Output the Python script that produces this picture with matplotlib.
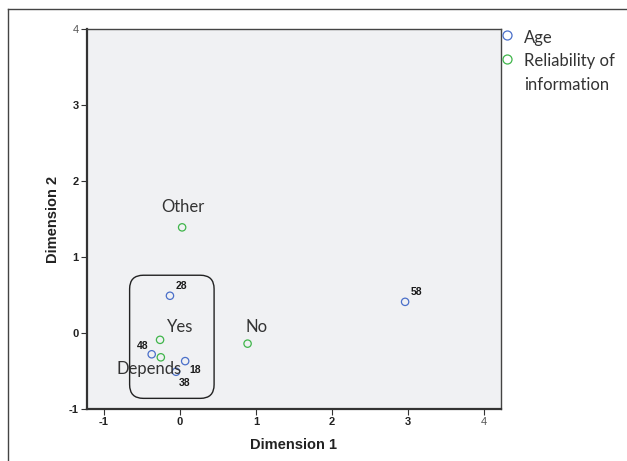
import matplotlib.pyplot as plt
from matplotlib.patches import FancyBboxPatch
from matplotlib.lines import Line2D

# category points (Dimension 1, Dimension 2)
age_labels = ['28', '58', '48', '18', '38']
age_x = [-0.13, 2.96, -0.37, 0.07, -0.05]
age_y = [0.49, 0.41, -0.28, -0.37, -0.51]

rel_labels = ['Other', 'No', 'Yes', 'Depends']
rel_x = [0.03, 0.89, -0.26, -0.25]
rel_y = [1.39, -0.14, -0.09, -0.32]

ticks = [-1, 0, 1, 2, 3, 4]

W, H = 627, 461
fig = plt.figure(figsize=(W / 100, H / 100), dpi=100)
ax = fig.add_axes([87 / W, 1 - 409 / H, (501 - 87) / W, (409 - 29) / H])
ax.set_facecolor('#f0f1f3')

blue = '#4a6fc9'
green = '#3fb54a'
ax.scatter(age_x, age_y, s=28, facecolors='none', edgecolors=blue, linewidths=0.9, zorder=3)
ax.scatter(rel_x, rel_y, s=28, facecolors='none', edgecolors=green, linewidths=0.9, zorder=3)

# age labels (bold, small), offsets in pixels
age_off = {'28': (11, 10), '58': (11, 10), '48': (-9, 8), '18': (10, -9), '38': (9, -11)}
for lab, x, y in zip(age_labels, age_x, age_y):
    dx, dy = age_off[lab]
    ax.annotate(lab, (x, y), xytext=(dx, dy), textcoords='offset pixels',
                ha='center', va='center', fontsize=7.5, fontweight='bold',
                family='Liberation Sans', color='#1a1a1a')

rel_off = {'Other': (1, 20), 'No': (9, 17), 'Yes': (20, 13), 'Depends': (-12, -12)}
for lab, x, y in zip(rel_labels, rel_x, rel_y):
    dx, dy = rel_off[lab]
    ax.annotate(lab, (x, y), xytext=(dx, dy), textcoords='offset pixels',
                ha='center', va='center', fontsize=12, family='Lato', color='#333333')

box = FancyBboxPatch((-0.66, -0.86), 1.11, 1.62, boxstyle='round,pad=0,rounding_size=0.18',
                     fill=False, edgecolor='#222222', linewidth=1.0, zorder=2,
                     mutation_aspect=1)
ax.add_patch(box)

ax.set_xlim(-1.22, 4.22)
ax.set_ylim(-1, 4)
ax.set_xticks(ticks)
ax.set_yticks(ticks)
ax.set_xticklabels([str(t) for t in ticks])
ax.set_yticklabels([str(t) for t in ticks])
for lbl in ax.get_xticklabels() + ax.get_yticklabels():
    lbl.set_family('Liberation Sans')
    lbl.set_fontsize(8)
    lbl.set_fontweight('normal' if lbl.get_text() == '4' else 'bold')
    lbl.set_color('#555555' if lbl.get_text() == '4' else '#222222')
ax.tick_params(direction='out', length=4, width=0.8, color='#333333', pad=2)

for side in ['left', 'bottom']:
    ax.spines[side].set_linewidth(1.6)
    ax.spines[side].set_color('#333333')
for side in ['top', 'right']:
    ax.spines[side].set_linewidth(1.0)
    ax.spines[side].set_color('#444444')

ax.set_xlabel('Dimension 1', fontsize=10.5, fontweight='bold', family='Liberation Sans',
              color='#222222', labelpad=8)
ax.set_ylabel('Dimension 2', fontsize=10.5, fontweight='bold', family='Liberation Sans',
              color='#222222', labelpad=6.5)

# legend at right
fig.add_artist(Line2D([507 / W], [1 - 35 / H], marker='o', markersize=6.5, markerfacecolor='none',
                      markeredgecolor=blue, markeredgewidth=0.9, linestyle='none'))
fig.add_artist(Line2D([507 / W], [1 - 59 / H], marker='o', markersize=6.5, markerfacecolor='none',
                      markeredgecolor=green, markeredgewidth=0.9, linestyle='none'))
fig.text(524 / W, 1 - 38 / H, 'Age', fontsize=12, family='Lato', color='#333333', va='center')
fig.text(524 / W, 1 - 61 / H, 'Reliability of', fontsize=12, family='Lato', color='#333333', va='center')
fig.text(524 / W, 1 - 85 / H, 'information', fontsize=12, family='Lato', color='#333333', va='center')

# outer frame (top and left edges)
fig.add_artist(Line2D([8 / W, 1], [1 - 9 / H, 1 - 9 / H], color='#444444', linewidth=1.0))
fig.add_artist(Line2D([8 / W, 8 / W], [0, 1 - 9 / H], color='#444444', linewidth=1.0))

fig.savefig('out.png', dpi=100)
